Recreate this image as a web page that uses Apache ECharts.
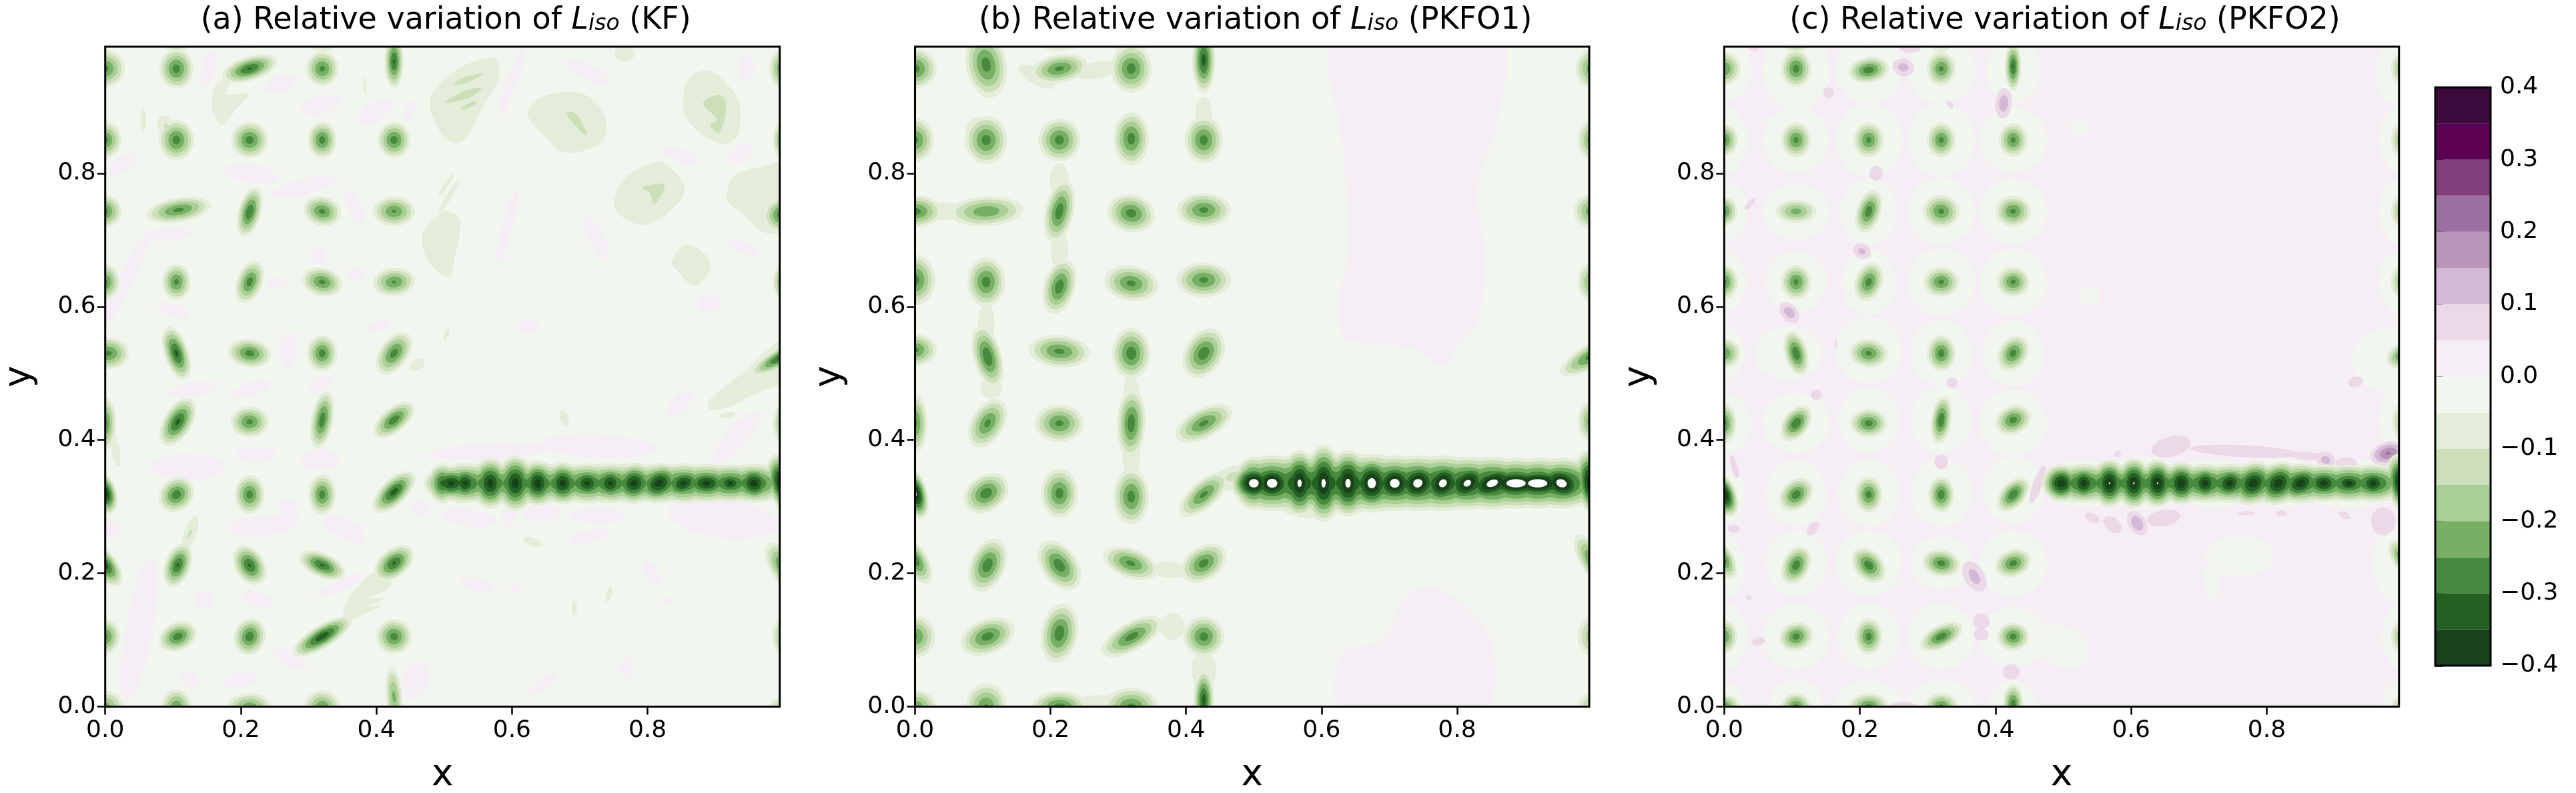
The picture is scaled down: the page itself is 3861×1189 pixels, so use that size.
<!DOCTYPE html>
<html><head><meta charset="utf-8">
<style>html,body{margin:0;padding:0;background:#fff}#c{width:3861px;height:1189px}</style>
<script src="https://cdn.jsdelivr.net/npm/echarts@6/dist/echarts.min.js"></script>
</head><body><div id="c"></div>
<script>
// contour levels and their colours, from the colour bar (bottom to top)
const levels = [-0.4,-0.35,-0.3,-0.25,-0.2,-0.15,-0.1,-0.05,0,0.05,0.1,0.15,0.2,0.25,0.3,0.35,0.4];
const bandColors = ['#1a421a','#236122','#47893e','#77b064','#a9cf96','#cddfb9','#e3edd9','#f1f6ef','#f6eef5','#ecd9e8','#d3b9d5','#b896ba','#9b6fa0','#813f7d','#5c0053','#3d0a3d'];
const xTicks = [0,0.2,0.4,0.6,0.8];
const yTicks = [0,0.2,0.4,0.6,0.8];
const cbarTicks = [-0.4,-0.3,-0.2,-0.1,0,0.1,0.2,0.3,0.4];

// Each contour feature: [x, y, semi-axis a, semi-axis b, angle of a (deg), extreme value]
const featuresKF = [
[0,.957,.029,.028,0,-.27],[.105,.957,.025,.03,0,-.28],[.105,1,.02,.02,0,-.17],[.213,.957,.042,.018,18,-.31],[.213,1,.03,.012,0,-.11],[.32,.957,.024,.026,0,-.27],[.32,1,.022,.018,0,-.17],[.426,.968,.014,.04,0,-.31],
[0,.85,.024,.027,0,-.27],[.105,.85,.026,.03,0,-.28],[.09,.87,.012,.018,20,-.11],[.213,.85,.027,.027,0,-.28],[.32,.85,.021,.027,0,-.28],[.426,.85,.024,.027,0,-.28],
[0,.743,.024,.024,0,-.27],[.108,.745,.048,.018,10,-.27],[.213,.742,.038,.017,75,-.3],[.32,.743,.028,.022,-15,-.27],[.426,.743,.031,.022,0,-.26],
[0,.637,.021,.027,0,-.27],[.105,.637,.021,.027,0,-.27],[.213,.637,.033,.019,70,-.28],[.32,.637,.03,.021,-15,-.27],[.426,.637,.031,.021,5,-.26],
[.005,.53,.03,.024,0,-.27],[.105,.53,.042,.018,-72,-.32],[.213,.53,.032,.021,-8,-.28],[.32,.53,.022,.027,0,-.28],[.426,.53,.036,.021,55,-.28],
[0,.425,.016,.04,0,-.27],[.015,.385,.006,.025,10,-.07],[.107,.427,.04,.021,60,-.32],[.213,.427,.028,.023,0,-.27],[.32,.43,.044,.016,80,-.29],[.426,.43,.037,.018,40,-.29],
[0,.32,.032,.017,-75,-.38],[.105,.318,.028,.024,45,-.29],[.213,.318,.022,.029,0,-.28],[.32,.318,.02,.03,0,-.28],[.426,.322,.04,.019,45,-.33],
[0,.212,.036,.018,-55,-.33],[.107,.212,.034,.019,70,-.31],[.125,.26,.028,.009,70,-.11],[.213,.212,.032,.022,-60,-.31],[.32,.212,.036,.018,-25,-.31],[.426,.215,.034,.021,40,-.31],
[0,.105,.022,.026,0,-.27],[.107,.105,.029,.021,25,-.29],[.213,.105,.028,.023,75,-.29],[.32,.105,.05,.017,32,-.34],[.426,.105,.026,.026,0,-.28],
[0,0,.027,.024,0,-.23],[.105,0,.022,.026,0,-.25],[.213,0,.032,.02,0,-.24],[.32,0,.026,.024,0,-.25],[.426,.015,.012,.045,5,-.22],
[1,.957,.02,.03,0,-.27],[1,.85,.015,.027,0,-.25],[1,.739,.03,.025,30,-.3],[1,.637,.015,.027,0,-.24],[1,.526,.055,.014,30,-.33],[1,.425,.015,.03,0,-.22],[1,.21,.04,.02,-60,-.27],[1,.105,.016,.028,0,-.2],[1,0,.02,.014,0,-.18],
[.677,.433,.012,.006,-75,-.07],[.63,.247,.014,.006,-20,-.07],[.743,.168,.012,.004,75,-.07],[.692,.148,.011,.004,90,-.07],[.056,.88,.018,.004,90,-.07],[.383,.932,.012,.002,90,-.07],[.918,.437,.012,.004,10,-.07],[.766,.98,.015,.012,0,-.07],[.503,.783,.02,.003,55,-.07],[.507,.765,.03,.004,60,-.07],[.46,.513,.012,.008,25,-.07],[.503,.558,.01,.003,70,-.07],
// stripe links
[.4975,.335,.022,.03,0,-.32],[.531,.335,.05,.03,0,-.32],[.568,.335,.05,.031,0,-.32],[.605,.335,.05,.033,0,-.32],[.638,.335,.05,.031,0,-.32],[.675,.335,.05,.03,0,-.32],[.711,.335,.05,.03,0,-.32],[.745,.335,.05,.03,0,-.32],[.78,.335,.05,.03,0,-.32],[.817,.335,.05,.03,0,-.32],[.853,.335,.05,.03,0,-.32],[.887,.335,.05,.029,0,-.32],[.922,.335,.05,.028,0,-.32],[.957,.335,.05,.029,0,-.32],
// stripe cores
[.51,.335,.04,.025,0,-.37],[.531,.335,.026,.028,0,-.37],[.568,.335,.028,.038,0,-.38],[.605,.335,.028,.042,0,-.385],[.638,.335,.028,.034,0,-.385],[.675,.335,.028,.032,0,-.38],[.711,.335,.03,.026,0,-.37],[.745,.335,.028,.028,30,-.37],[.78,.335,.032,.03,30,-.38],[.817,.335,.036,.028,25,-.385],[.853,.335,.034,.024,20,-.375],[.887,.335,.04,.024,0,-.375],[.922,.335,.028,.02,0,-.37],[.957,.335,.03,.028,-10,-.385],[1,.335,.045,.024,-75,-.43]
];
const pinkPatchesKF = [
[.025,.813,.025,.012,35,.03],[.03,.639,.07,.012,65,.03],[.09,.708,.035,.01,5,.03],[.215,.8,.04,.014,-10,.03],[.293,.78,.05,.012,15,.03],[.319,.903,.03,.014,15,.03],[.153,.957,.028,.01,75,.03],[.398,.892,.03,.014,35,.03],[.258,.934,.022,.012,25,.03],[.367,.75,.028,.01,-65,.03],[.45,.895,.015,.008,70,.03],[.402,.57,.018,.007,25,.03],[.27,.536,.027,.012,90,.03],[.37,.65,.014,.01,0,.03],[.1,.595,.025,.01,-20,.03],[.313,.677,.012,.012,0,.03],[.254,.635,.015,.008,0,.03],
[.13,.476,.035,.011,10,.03],[.215,.476,.03,.01,20,.03],[.317,.484,.018,.012,30,.03],[.122,.359,.055,.02,0,.03],[.222,.378,.03,.012,0,.03],[.317,.371,.028,.016,0,.03],[.231,.271,.05,.015,5,.03],[.27,.291,.015,.02,0,.03],[.352,.267,.035,.015,-30,.03],[.05,.115,.11,.02,80,.03],[.145,.16,.016,.012,-30,.03],[.225,.16,.024,.012,-20,.03],[.272,.073,.028,.012,-30,.03],[.2,.04,.025,.012,15,.03],[.124,.04,.015,.01,-30,.03],[.457,.04,.028,.02,70,.03],[.348,.182,.04,.008,25,.03],[.01,.265,.012,.014,0,.03],
[.564,.383,.09,.012,3,.03],[.727,.391,.085,.018,-3,.03],[.536,.283,.04,.013,-8,.03],[.595,.283,.01,.014,0,.03],[.645,.291,.03,.012,0,.03],[.727,.287,.04,.012,0,.03],[.715,.255,.03,.01,15,.03],[.91,.283,.08,.03,-8,.03],[.463,.299,.013,.012,-30,.03],[.848,.455,.025,.012,50,.03],[.93,.403,.05,.016,50,.03],[.805,.2,.02,.01,-65,.03],[.548,.183,.025,.01,-10,.03],[.606,.178,.01,.006,20,.03],[.77,.058,.017,.009,90,.03],[.645,.034,.025,.008,40,.03],[.828,.158,.008,.006,0,.03],
[.6,.938,.055,.008,70,.03],[.71,.953,.035,.012,-25,.03],[.593,.72,.055,.008,75,.03],[.724,.704,.035,.012,-65,.03],[.85,.827,.028,.01,-20,.03],[.938,.83,.02,.012,30,.03],[.945,.96,.02,.012,90,.03],[.94,.689,.025,.008,-20,.03],[.892,.605,.018,.012,0,.03],[.625,.57,.015,.012,0,.03]
];
// Outlined regions: first number is the value of the band, then boundary vertices in x,y
const regionsKF = [
[-.07,[.576,.972],[.537,.965],[.506,.946],[.482,.919],[.48,.896],[.5,.854],[.52,.846],[.537,.861],[.555,.896],[.58,.942]],
[-.12,[.513,.934],[.53,.944],[.557,.949],[.53,.935]],
[-.12,[.502,.907],[.53,.924],[.555,.928],[.54,.915],[.515,.907]],
[-.12,[.523,.897],[.545,.909],[.547,.905],[.53,.896]],
[-.07,[.623,.892],[.646,.915],[.695,.922],[.723,.907],[.739,.88],[.734,.85],[.702,.833],[.671,.834],[.65,.854],[.632,.873]],
[-.12,[.68,.892],[.695,.888],[.711,.857],[.692,.873]],
[-.07,[.852,.911],[.864,.946],[.892,.953],[.924,.926],[.936,.9],[.933,.857],[.913,.844],[.882,.857],[.857,.884]],
[-.12,[.882,.905],[.905,.918],[.916,.905],[.906,.861],[.892,.873],[.903,.88]],
[-.07,[.75,.754],[.766,.792],[.801,.813],[.825,.815],[.855,.777],[.836,.746],[.797,.723],[.762,.735]],
[-.12,[.792,.779],[.825,.783],[.81,.754],[.803,.771]],
[-.07,[.836,.666],[.857,.693],[.89,.673],[.89,.651],[.868,.631],[.847,.651]],
[-.07,[.917,.769],[.927,.796],[.973,.811],[1,.815],[1,.716],[.97,.712],[.938,.742],[.919,.756]],
[-.07,[.468,.708],[.5,.742],[.523,.731],[.515,.67],[.507,.645],[.478,.666]],
[-.07,[.894,.463],[.94,.5],[1,.55],[1,.49],[.96,.47],[.94,.46],[.92,.449],[.89,.447]],
[-.07,[.157,.907],[.165,.935],[.19,.945],[.177,.919],[.212,.919],[.196,.9],[.173,.873],[.161,.888]],
[-.07,[.352,.147],[.371,.178],[.402,.203],[.422,.183],[.391,.163],[.414,.163],[.391,.151],[.408,.151],[.375,.136],[.356,.126]]
];

const featuresPKFO1 = [
[0,.957,.032,.03,0,-.28],[.105,.963,.05,.03,100,-.28],[.105,1,.028,.02,0,-.2],[.213,.957,.042,.021,10,-.27],[.18,.945,.03,.012,-30,-.07],[.27,.955,.035,.012,12,-.07],[.213,1,.035,.016,0,-.12],[.319,.957,.03,.036,0,-.28],[.319,1,.03,.02,0,-.17],[.426,.97,.017,.05,0,-.33],[.426,.89,.012,.025,0,-.07],
[0,.85,.028,.033,0,-.27],[.105,.85,.031,.036,0,-.28],[.095,.865,.02,.02,0,-.07],[.213,.85,.031,.032,0,-.28],[.319,.852,.026,.04,0,-.28],[.426,.85,.028,.035,0,-.28],[.213,.79,.014,.025,0,-.07],
[0,.743,.04,.024,0,-.28],[.045,.743,.03,.013,0,-.07],[.105,.743,.055,.022,3,-.25],[.213,.743,.048,.021,78,-.29],[.319,.74,.035,.028,-15,-.28],[.426,.745,.04,.025,0,-.27],[.213,.685,.013,.03,0,-.07],
[0,.64,.03,.038,0,-.28],[.105,.637,.028,.037,0,-.28],[.213,.63,.042,.023,75,-.29],[.319,.635,.04,.026,-10,-.27],[.426,.64,.04,.026,0,-.27],[.105,.575,.012,.03,0,-.07],
[0,.535,.032,.024,0,-.27],[.107,.525,.048,.021,-75,-.3],[.213,.533,.045,.024,-5,-.27],[.319,.53,.028,.038,0,-.29],[.426,.53,.04,.028,60,-.29],[.319,.467,.012,.03,0,-.07],
[0,.425,.018,.045,0,-.27],[.107,.425,.04,.024,60,-.27],[.213,.425,.036,.028,0,-.27],[.319,.425,.052,.021,88,-.29],[.426,.425,.046,.022,28,-.27],[.113,.478,.016,.016,0,-.07],
[0,.32,.04,.018,-75,-.42],[.105,.32,.036,.027,35,-.29],[.213,.32,.027,.037,0,-.28],[.319,.315,.026,.042,0,-.28],[.319,.375,.013,.03,0,-.09],[.426,.318,.045,.02,42,-.27],[.46,.335,.02,.012,0,-.1],
[0,.22,.04,.018,-60,-.29],[.107,.212,.042,.026,68,-.29],[.213,.212,.042,.026,-55,-.29],[.318,.215,.042,.022,-20,-.27],[.426,.215,.037,.025,35,-.28],[.375,.205,.025,.012,-5,-.07],
[0,.105,.03,.032,0,-.26],[.107,.105,.042,.026,22,-.28],[.213,.11,.045,.027,80,-.29],[.32,.105,.05,.021,30,-.28],[.426,.105,.03,.03,0,-.28],[.38,.12,.018,.02,0,-.1],[.426,.055,.018,.03,0,-.07],
[0,0,.032,.025,0,-.25],[.105,0,.03,.035,0,-.26],[.213,0,.04,.023,0,-.28],[.27,.005,.035,.012,0,-.07],[.319,0,.04,.028,0,-.27],[.426,.01,.015,.045,0,-.33],
[1,.957,.025,.03,0,-.25],[1,.85,.022,.03,0,-.25],[1,.743,.028,.026,0,-.25],[1,.637,.022,.03,0,-.24],[1,.527,.055,.018,30,-.28],[1,.428,.022,.032,0,-.25],[1,.218,.045,.018,-60,-.27],[1,.105,.022,.03,0,-.2],[1,0,.022,.02,0,-.18],
// stripe links
[.47,.345,.03,.016,15,-.12],[.58,.305,.05,.022,-5,-.07],
[.5,.335,.03,.04,0,-.36],[.527,.335,.06,.042,0,-.36],[.5675,.335,.06,.044,0,-.36],[.603,.335,.06,.046,0,-.36],[.639,.335,.06,.046,0,-.36],[.674,.335,.06,.044,0,-.36],[.708,.335,.06,.042,0,-.36],[.742,.335,.06,.042,0,-.36],[.779,.335,.06,.042,0,-.36],[.815,.335,.06,.04,0,-.36],[.852,.335,.06,.04,0,-.36],[.887,.335,.06,.038,0,-.36],[.919,.335,.06,.038,0,-.36],[.954,.335,.06,.038,0,-.36],
// stripe cores
[.5,.335,.034,.03,0,-.45],[.527,.335,.036,.032,0,-.45],[.5675,.335,.028,.05,0,-.42],[.603,.335,.028,.058,0,-.42],[.639,.335,.03,.05,0,-.425],[.674,.335,.034,.042,0,-.44],[.708,.335,.036,.034,0,-.445],[.742,.335,.038,.034,30,-.44],[.779,.335,.038,.032,50,-.435],[.815,.335,.04,.03,35,-.43],[.852,.335,.048,.028,20,-.44],[.887,.335,.06,.026,0,-.46],[.919,.335,.06,.026,0,-.46],[.954,.335,.04,.03,-20,-.445],[1,.335,.05,.026,-80,-.44]
];
const regionsPKFO1 = [
[.03,[.62,1],[.86,1],[.86,.88],[.83,.78],[.84,.68],[.83,.58],[.8,.54],[.78,.51],[.75,.53],[.72,.54],[.63,.56],[.64,.7],[.63,.85]],
[.03,[.63,0],[.84,0],[.85,.1],[.8,.16],[.76,.18],[.72,.16],[.69,.1],[.63,.08]]
];

const featuresPKFO2 = [
[0,.957,.024,.025,0,-.26],[.106,.957,.022,.028,0,-.28],[.213,.955,.03,.019,10,-.29],[.32,.957,.021,.025,0,-.27],[.426,.96,.012,.036,0,-.31],[.106,1,.02,.02,0,-.2],[.213,1,.028,.012,0,-.13],[.32,1,.018,.018,0,-.17],
[0,.85,.02,.024,0,-.27],[.106,.85,.022,.026,0,-.27],[.213,.85,.022,.026,0,-.27],[.32,.85,.021,.026,0,-.27],[.426,.85,.021,.025,0,-.27],
[0,.743,.019,.022,0,-.27],[.106,.743,.03,.017,0,-.23],[.213,.743,.033,.018,72,-.29],[.32,.743,.027,.024,-10,-.27],[.426,.743,.026,.023,0,-.27],
[0,.637,.02,.026,0,-.27],[.106,.637,.022,.026,0,-.27],[.213,.637,.03,.02,70,-.28],[.32,.637,.026,.022,0,-.27],[.426,.637,.024,.022,0,-.27],
[0,.53,.024,.022,0,-.26],[.106,.53,.034,.017,-75,-.3],[.213,.53,.028,.021,-5,-.27],[.32,.53,.021,.027,0,-.28],[.426,.53,.028,.021,60,-.28],
[0,.425,.018,.03,0,-.27],[.106,.425,.03,.019,55,-.3],[.213,.425,.027,.021,0,-.28],[.32,.43,.036,.015,82,-.3],[.426,.43,.027,.021,25,-.28],
[0,.318,.035,.018,-70,-.41],[.106,.318,.028,.021,45,-.29],[.213,.318,.02,.027,0,-.28],[.32,.318,.019,.027,0,-.29],[.426,.318,.03,.018,50,-.3],
[0,.22,.03,.015,-65,-.27],[.106,.212,.03,.02,65,-.29],[.213,.212,.03,.021,-50,-.29],[.32,.215,.028,.02,-10,-.28],[.426,.215,.027,.02,20,-.28],
[0,.105,.019,.025,0,-.26],[.106,.105,.025,.021,20,-.28],[.213,.105,.02,.027,0,-.28],[.32,.105,.034,.017,28,-.29],[.426,.105,.023,.021,0,-.28],
[0,0,.023,.018,0,-.26],[.106,0,.022,.02,0,-.27],[.213,0,.029,.02,0,-.27],[.32,0,.024,.02,0,-.27],[.426,.003,.015,.03,0,-.29],
[1,.957,.017,.024,0,-.22],[1,.85,.017,.026,0,-.22],[1,.743,.017,.024,0,-.22],[1,.637,.017,.026,0,-.22],[1,.527,.025,.018,30,-.27],[1,.427,.015,.03,0,-.2],[1,.223,.03,.016,-60,-.27],[1,.105,.017,.026,0,-.22],[1,0,.017,.016,0,-.2],
// stripe links
[.497,.335,.024,.028,0,-.33],[.53,.335,.05,.029,0,-.33],[.568,.335,.05,.03,0,-.33],[.604,.335,.05,.03,0,-.33],[.639,.335,.05,.03,0,-.33],[.674,.335,.05,.029,0,-.33],[.709,.335,.05,.029,0,-.33],[.745,.335,.05,.029,0,-.33],[.78,.335,.05,.03,0,-.33],[.817,.335,.05,.03,0,-.33],[.85,.335,.05,.03,0,-.33],[.884,.335,.05,.028,0,-.33],[.921,.335,.05,.028,0,-.33],[.957,.335,.05,.028,0,-.33],
// stripe cores
[.497,.335,.028,.028,0,-.395],[.53,.335,.026,.028,0,-.385],[.568,.335,.026,.036,0,-.405],[.604,.335,.026,.038,0,-.405],[.639,.335,.026,.036,0,-.405],[.674,.335,.028,.032,0,-.395],[.709,.335,.026,.028,0,-.385],[.745,.335,.03,.026,30,-.385],[.78,.335,.036,.03,40,-.39],[.817,.335,.036,.03,40,-.39],[.85,.335,.036,.026,25,-.39],[.884,.335,.032,.024,0,-.385],[.921,.335,.03,.02,0,-.38],[.957,.335,.028,.024,0,-.385],[1,.335,.045,.024,-80,-.43]
];
const pinkPatchesPKFO2 = [
[.979,.38,.027,.017,15,.21],[.972,.278,.021,.018,90,.08],[.659,.39,.03,.015,15,.08],[.768,.383,.08,.009,-3,.08],[.859,.376,.03,.006,-5,.08],[.887,.37,.015,.012,-30,.13],[.917,.366,.016,.008,0,.08],[.58,.379,.005,.005,0,.08],[.931,.487,.011,.008,20,.08],
[.543,.283,.012,.006,-30,.08],[.573,.273,.016,.01,-40,.08],[.609,.275,.02,.013,-60,.15],[.648,.283,.025,.012,10,.08],[.77,.29,.012,.003,0,.08],[.822,.29,.008,.004,0,.08],[.915,.287,.009,.005,-30,.08],
[.462,.333,.03,.007,70,.08],[.369,.195,.025,.015,-60,.13],[.379,.128,.012,.012,0,.08],[.379,.108,.011,.009,0,.08],[.423,.052,.012,.012,0,.08],[.32,.367,.01,.011,0,.08],[.131,.267,.012,.007,50,.08],[.014,.267,.009,.006,0,.08],[.015,.36,.018,.005,-75,.08],[.036,.164,.005,.004,0,.08],[.051,.098,.01,.006,15,.08],[.264,0,.02,.007,0,.08],[.336,.486,.008,.008,0,.08],[.136,.468,.008,.008,0,.08],
[.264,.959,.016,.013,-15,.13],[.274,.988,.015,.007,0,.08],[.154,.921,.008,.008,-60,.08],[.412,.905,.023,.012,85,.14],[.333,.903,.007,.004,-45,.08],[.224,.8,.01,.011,0,.08],[.038,.754,.011,.004,50,.08],[.203,.683,.014,.011,-30,.12],[.096,.591,.018,.012,-50,.14],[.165,.544,.007,.002,90,.08],[.044,.988,.007,.005,0,.08]
];
// pale areas between -0.05 and 0 around the features of panel (c)
const halosPKFO2 = [
[0,.957,.04,.05,0,-.03],[.106,.955,.05,.06,0,-.03],[.213,.955,.05,.05,0,-.03],[.32,.955,.05,.05,0,-.03],[.426,.955,.04,.05,0,-.03],
[0,.85,.035,.05,0,-.03],[.106,.85,.05,.05,0,-.03],[.213,.85,.05,.055,0,-.03],[.32,.85,.05,.055,0,-.03],[.426,.85,.05,.05,0,-.03],
[0,.743,.035,.045,0,-.03],[.106,.743,.05,.042,0,-.03],[.213,.743,.042,.05,0,-.03],[.32,.743,.05,.05,0,-.03],[.426,.743,.05,.05,0,-.03],
[0,.637,.032,.045,0,-.03],[.106,.637,.045,.045,0,-.03],[.213,.637,.04,.05,0,-.03],[.32,.637,.05,.05,0,-.03],[.426,.637,.05,.05,0,-.03],
[0,.53,.03,.04,0,-.03],[.095,.53,.05,.04,0,-.03],[.213,.535,.05,.05,0,-.03],[.32,.53,.045,.05,0,-.03],[.426,.53,.045,.05,0,-.03],
[0,.425,.04,.045,0,-.03],[.106,.425,.05,.045,0,-.03],[.213,.43,.045,.05,0,-.03],[.32,.43,.045,.05,0,-.03],[.426,.425,.05,.05,0,-.03],
[0,.318,.03,.045,0,-.03],[.106,.32,.045,.05,0,-.03],[.213,.32,.045,.05,0,-.03],[.32,.32,.045,.05,0,-.03],[.426,.325,.045,.05,0,-.03],
[0,.21,.03,.05,0,-.03],[.106,.215,.045,.05,0,-.03],[.213,.215,.05,.05,0,-.03],[.32,.215,.045,.04,0,-.03],[.426,.215,.05,.05,0,-.03],
[0,.105,.035,.05,0,-.03],[.106,.105,.05,.05,0,-.03],[.213,.105,.045,.05,0,-.03],[.32,.105,.05,.05,0,-.03],[.426,.105,.05,.045,0,-.03],[.5,.09,.04,.03,-30,-.03],
[0,0,.03,.035,0,-.03],[.106,0,.04,.04,0,-.03],[.213,0,.05,.04,0,-.03],[.32,0,.05,.04,0,-.03],[.426,0,.035,.04,0,-.03],
[.524,.869,.015,.012,0,-.03],[.54,.616,.015,.012,0,-.03],[.76,.226,.05,.03,0,-.03],[.72,.19,.012,.03,0,-.03],
[1,.95,.04,.05,0,-.03],[1,.85,.035,.05,0,-.03],[1,.743,.035,.05,0,-.03],[1,.637,.035,.05,0,-.03],[.985,.52,.06,.05,0,-.03],[1,.43,.035,.05,0,-.03],[1,.215,.045,.06,0,-.03],[1,.105,.03,.05,0,-.03],[1,0,.03,.04,0,-.03],
[.53,.335,.06,.036,0,-.03],[.62,.335,.06,.04,0,-.03],[.72,.335,.06,.037,0,-.03],[.82,.335,.06,.037,0,-.03],[.92,.335,.085,.036,0,-.03]
];

const titles = [['(a)','(KF)'],['(b)','(PKFO1)'],['(c)','(PKFO2)']];
const panelRect = [[157.7,70,1011,989.4],[1371.5,70,1010.5,989.4],[2584.3,70,1011.4,989.4]];
const xMax = 0.995, yMax = 0.99;

function colorOf(v){
  if (v <= -0.4) return '#ffffff';
  for (let i=0;i<bandColors.length;i++) if (v>=levels[i] && v<levels[i+1]) return bandColors[i];
  return bandColors[bandColors.length-1];
}
// expand each feature into nested contour rows, sorted so that stronger levels paint last
function contourRows(list){
  const rows=[];
  list.forEach(f=>{
    const p=Math.abs(f[5]), s=Math.sign(f[5]);
    if(p<0.05){ rows.push([f[0],f[1],f[2],f[3],f[4],1,s*0.025,0]); return; }
    for(let k=1;k*0.05<p-1e-9;k++){
      const t=k*0.05, r=Math.pow((p-t)/(p-0.05),0.75);
      rows.push([f[0],f[1],f[2],f[3],f[4],r,s*(t+0.025),t]);
    }
  });
  return rows.sort((a,b)=>a[7]-b[7]);
}
function contourSeries(i,list,z){
  return {type:'custom',xAxisIndex:i,yAxisIndex:i,z:z,clip:true,silent:true,animation:false,
    dimensions:['x','y','a','b','ang','r','v','o'],encode:{x:0,y:1},data:contourRows(list),
    renderItem:(p,api)=>{
      const x=api.value(0),y=api.value(1),a=api.value(2)*api.value(5),b=api.value(3)*api.value(5),g=api.value(4)*Math.PI/180;
      const pts=[];
      for(let k=0;k<40;k++){const q=k/40*2*Math.PI,u=a*Math.cos(q),w=b*Math.sin(q);
        pts.push(api.coord([x+u*Math.cos(g)-w*Math.sin(g),y+u*Math.sin(g)+w*Math.cos(g)]));}
      return {type:'polygon',shape:{points:pts},style:{fill:colorOf(api.value(6))}};
    }};
}
function regionSeries(i,list,z){
  return {type:'custom',xAxisIndex:i,yAxisIndex:i,z:z,clip:true,silent:true,animation:false,
    encode:{x:0,y:1},data:list.map((r,j)=>[r[1][0],r[1][1],j]),
    renderItem:(p,api)=>{const r=list[api.value(2)];
      return {type:'polygon',shape:{points:r.slice(1).map(c=>api.coord(c)),smooth:0.35},style:{fill:colorOf(r[0])}};}};
}
function rectSeries(i,value,z,stroke){
  return {type:'custom',xAxisIndex:i,yAxisIndex:i,z:z,clip:false,silent:true,animation:false,
    encode:{x:0,y:1},data:[[0,0]],
    renderItem:(p,api)=>{const a=api.coord([0,yMax]),b=api.coord([xMax,0]);
      return {type:'rect',shape:{x:a[0],y:a[1],width:b[0]-a[0],height:b[1]-a[1]},
        style:stroke?{fill:'none',stroke:'#000',lineWidth:3}:{fill:colorOf(value)}};}};
}
const panels=[
  {base:-.025,regions:regionsKF,lists:[pinkPatchesKF,featuresKF]},
  {base:-.025,regions:regionsPKFO1,lists:[featuresPKFO1]},
  {base:.025,regions:[],lists:[halosPKFO2,pinkPatchesPKFO2,featuresPKFO2]}
];
const series=[],grid=[],xAxis=[],yAxis=[],title=[];
const tickFont={fontFamily:'DejaVu Sans',fontSize:36,color:'#000'};
panelRect.forEach((r,i)=>{
  grid.push({left:r[0],top:r[1],width:r[2],height:r[3],outerBoundsMode:'none'});
  xAxis.push({gridIndex:i,type:'value',min:0,max:xMax,name:'x',nameLocation:'middle',nameGap:76,
    nameTextStyle:{fontFamily:'DejaVu Sans',fontSize:55,color:'#000'},
    axisLine:{show:false},splitLine:{show:false},
    axisTick:{length:12,lineStyle:{color:'#000',width:2.5},customValues:xTicks},
    axisLabel:{...tickFont,margin:18,customValues:xTicks,formatter:v=>v.toFixed(1)}});
  yAxis.push({gridIndex:i,type:'value',min:0,max:yMax,name:'y',nameLocation:'middle',nameGap:100,nameRotate:90,
    nameTextStyle:{fontFamily:'DejaVu Sans',fontSize:55,color:'#000'},
    axisLine:{show:false},splitLine:{show:false},
    axisTick:{length:12,lineStyle:{color:'#000',width:2.5},customValues:yTicks},
    axisLabel:{...tickFont,margin:14,customValues:yTicks,formatter:v=>v.toFixed(1)}});
  title.push({left:r[0]+r[2]/2,top:3,textAlign:'center',
    text:titles[i][0]+' Relative variation of {i|L}{s|iso} '+titles[i][1],
    textStyle:{fontFamily:'DejaVu Sans',fontSize:46,fontWeight:'normal',color:'#000',
      rich:{i:{fontFamily:'DejaVu Sans',fontStyle:'italic',fontSize:46,color:'#000'},
            s:{fontFamily:'DejaVu Sans',fontStyle:'italic',fontSize:33,color:'#000',padding:[11,0,0,0]}}}});
  const p=panels[i];
  series.push(rectSeries(i,p.base,1,false));
  series.push(regionSeries(i,p.regions,2));
  p.lists.forEach((l,j)=>series.push(contourSeries(i,l,3+j)));
  series.push(rectSeries(i,0,20,true));
});
// colour bar
grid.push({left:3650,top:131,width:83,height:867,outerBoundsMode:'none'});
xAxis.push({gridIndex:3,type:'value',min:0,max:1,show:false});
yAxis.push({gridIndex:3,type:'value',min:-0.4,max:0.4,interval:0.1,position:'right',
  axisLine:{show:false},splitLine:{show:false},
  axisTick:{length:12,lineStyle:{color:'#000',width:2.5}},
  axisLabel:{...tickFont,margin:14,customValues:cbarTicks,formatter:v=>(v<-1e-9?'\u2212':'')+Math.abs(v).toFixed(1)}});
series.push({type:'custom',xAxisIndex:3,yAxisIndex:3,z:5,clip:false,silent:true,animation:false,
  encode:{x:0,y:1},data:bandColors.map((c,j)=>[0,levels[j],levels[j+1],j]),
  renderItem:(p,api)=>{const a=api.coord([0,api.value(2)]),b=api.coord([1,api.value(1)]);
    return {type:'rect',shape:{x:a[0],y:a[1],width:b[0]-a[0],height:b[1]-a[1]},style:{fill:bandColors[api.value(3)]}};}});
series.push({type:'custom',xAxisIndex:3,yAxisIndex:3,z:20,clip:false,silent:true,animation:false,
  encode:{x:0,y:1},data:[[0,-0.4]],
  renderItem:(p,api)=>{const a=api.coord([0,0.4]),b=api.coord([1,-0.4]);
    return {type:'rect',shape:{x:a[0],y:a[1],width:b[0]-a[0],height:b[1]-a[1]},style:{fill:'none',stroke:'#000',lineWidth:3}};}});

const chart=echarts.init(document.getElementById('c'),null,{renderer:'canvas',width:3861,height:1189});
chart.setOption({animation:false,backgroundColor:'#fff',title,grid,xAxis,yAxis,series});
</script></body></html>
